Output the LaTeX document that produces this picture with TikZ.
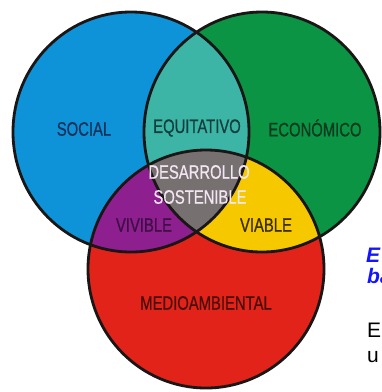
\documentclass[tikz,border=0pt]{standalone}
\usepackage{fontspec}
\setmainfont{Liberation Sans}
\newfontfamily\condfont[FakeStretch=0.76,FakeBold=0.6]{Liberation Sans}
\definecolor{cblue}{RGB}{14,146,216}
\definecolor{cgreen}{RGB}{11,148,68}
\definecolor{cred}{RGB}{226,35,26}
\definecolor{cteal}{RGB}{61,181,166}
\definecolor{cpurple}{RGB}{142,31,142}
\definecolor{cyellow}{RGB}{246,200,0}
\definecolor{cgray}{RGB}{119,112,113}
\definecolor{cline}{RGB}{26,22,22}
\definecolor{tsocial}{RGB}{23,50,90}
\definecolor{tequi}{RGB}{18,62,62}
\definecolor{teco}{RGB}{10,58,30}
\definecolor{tviv}{RGB}{61,15,69}
\definecolor{tvia}{RGB}{58,44,5}
\definecolor{tmed}{RGB}{74,14,10}
\definecolor{tdes}{RGB}{242,230,242}
\definecolor{tside}{RGB}{20,20,255}
\begin{document}
\begin{tikzpicture}[x=1pt,y=-1pt,
  lbl/.style={inner sep=0pt,font=\condfont\fontsize{19.5}{22}\selectfont},
  side/.style={anchor=base west,inner sep=0pt,font=\fontsize{21}{22}\selectfont},
  sideblue/.style={anchor=base west,inner sep=0pt,text=tside,font=\bfseries\itshape\fontsize{21}{22}\selectfont},
  outline/.style={draw=cline,line width=2.8pt}]
\useasboundingbox (0,0) rectangle (382,392);
\fill[white] (0,0) rectangle (382,392);
\def\cblueP{(131,132) ellipse [x radius=118pt, y radius=120pt]}
\def\cgreenP{(262,132) ellipse [x radius=118pt, y radius=120pt]}
\def\credP{(206,269) ellipse [x radius=118pt, y radius=119pt]}
% base fills
\fill[cblue] \cblueP;
\fill[cgreen] \cgreenP;
\fill[cred] \credP;
% pairwise overlaps
\begin{scope}\clip \cblueP; \fill[cteal] \cgreenP; \end{scope}
\begin{scope}\clip \cblueP; \fill[cpurple] \credP; \end{scope}
\begin{scope}\clip \cgreenP; \fill[cyellow] \credP; \end{scope}
\begin{scope}\clip \cblueP; \clip \cgreenP; \fill[cgray] \credP; \end{scope}
% outlines
\draw[outline] \cblueP;
\draw[outline] \cgreenP;
\draw[outline] \credP;
% labels
\node[lbl,text=tsocial] (social) at (84,129) {SOCIAL};
\node[lbl,text=tequi] (equi) at (197,128) {EQUITATIVO};
\node[lbl,text=teco] (eco) at (315,128) {ECONÓMICO};
\node[lbl,text=tdes] (des) at (199,172) {DESARROLLO};
\node[lbl,text=tdes] (sos) at (200,197) {SOSTENIBLE};
\node[lbl,text=tviv] (viv) at (144,225) {VIVIBLE};
\node[lbl,text=tvia] (via) at (266,225) {VIABLE};
\node[lbl,text=tmed] (med) at (206,303) {MEDIOAMBIENTAL};
% cut-off side text
\begin{scope}
\clip (0,0) rectangle (382,392);
\node[sideblue] (s1) at (366,262) {E};
\node[sideblue] (s2) at (367,283) {ba};
\node[side,text=black] (s3) at (367,337) {E};
\node[side,text=black] (s4) at (367,362) {u};
\end{scope}
\end{tikzpicture}
\end{document}
